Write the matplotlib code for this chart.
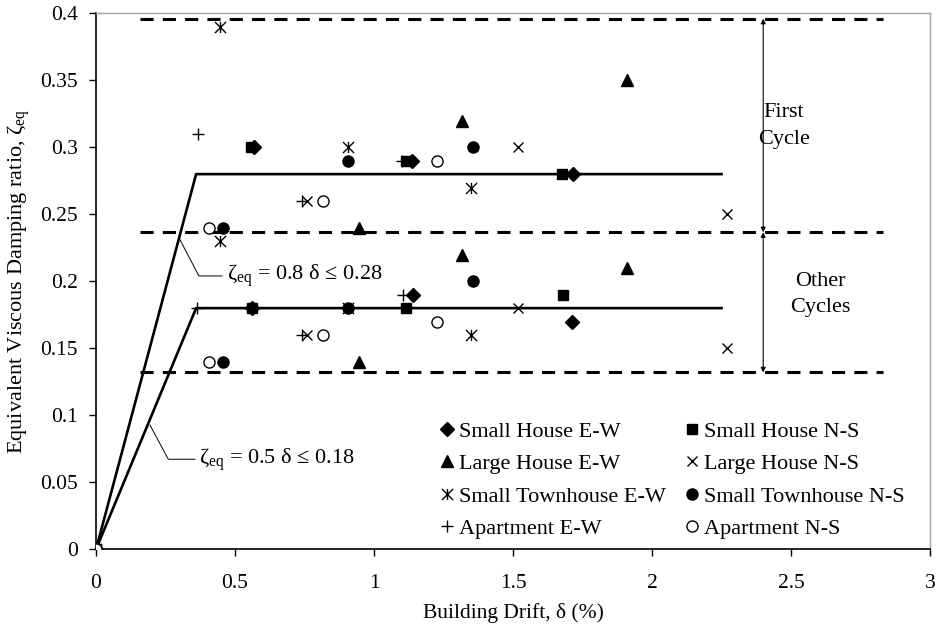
import numpy as np
import matplotlib
matplotlib.use("Agg")
import matplotlib.pyplot as plt
from matplotlib.path import Path

plt.rcParams['font.family'] = ['Liberation Serif', 'DejaVu Serif']
plt.rcParams['mathtext.fontset'] = 'custom'
plt.rcParams['mathtext.rm'] = 'Liberation Serif'
plt.rcParams['mathtext.it'] = 'Liberation Serif:italic'

# data: building drift (%) and damping ratio
sh_ew_x = [0, 0.568, 1.137, 1.716, 0.560, 1.139, 1.711]
sh_ew_y = [0, 0.30, 0.29, 0.28, 0.18, 0.19, 0.17]
sh_ns_x = [0, 0.556, 1.114, 1.675, 0.560, 1.114, 1.679]
sh_ns_y = [0, 0.30, 0.29, 0.28, 0.18, 0.18, 0.19]
lh_ew_x = [0, 0.947, 1.317, 1.909, 0.947, 1.317, 1.909]
lh_ew_y = [0, 0.24, 0.32, 0.35, 0.14, 0.22, 0.21]
lh_ns_x = [0, 0.758, 1.519, 2.269, 0.758, 1.519, 2.269]
lh_ns_y = [0, 0.26, 0.30, 0.25, 0.16, 0.18, 0.15]
sth_ew_x = [0, 0.446, 0.906, 1.349, 0.446, 0.906, 1.349]
sth_ew_y = [0, 0.39, 0.30, 0.27, 0.23, 0.18, 0.16]
sth_ns_x = [0, 0.458, 0.906, 1.357, 0.458, 0.906, 1.357]
sth_ns_y = [0, 0.24, 0.29, 0.30, 0.14, 0.18, 0.20]
apt_ew_x = [0, 0.368, 0.740, 1.100, 0.364, 0.740, 1.106]
apt_ew_y = [0, 0.31, 0.26, 0.29, 0.18, 0.16, 0.19]
apt_ns_x = [0, 0.408, 0.818, 1.228, 0.408, 0.818, 1.228]
apt_ns_y = [0, 0.24, 0.26, 0.29, 0.14, 0.16, 0.17]

# bilinear fits
first_x = [0, 0.36, 2.25]
first_y = [0, 0.28, 0.28]
other_x = [0, 0.36, 2.25]
other_y = [0, 0.18, 0.18]

# bounds of the scatter bands
band_levels = [0.396, 0.2366, 0.132]
band_x = [0.158, 2.83]

# asterisk marker: X with a vertical bar
ast = Path([(0, -1), (0, 1), (-1, -1), (1, 1), (-1, 1), (1, -1)],
           [Path.MOVETO, Path.LINETO, Path.MOVETO, Path.LINETO, Path.MOVETO, Path.LINETO])

fig = plt.figure(figsize=(9.36, 6.25), dpi=100)
ax = fig.add_axes([0.1026, 0.1211, 0.8910, 0.8576])

ax.plot(first_x, first_y, color='black', lw=1.9, zorder=2)
ax.plot(other_x, other_y, color='black', lw=1.9, zorder=2)
for lv in band_levels:
    ax.plot(band_x, [lv, lv], color='black', lw=2.2, ls=(0, (4.3, 3)), zorder=2)

series = [
    (sh_ew_x, sh_ew_y, 'D', 'black', 7.5, 'Small House E-W'),
    (lh_ew_x, lh_ew_y, '^', 'black', 8.5, 'Large House E-W'),
    (sth_ew_x, sth_ew_y, ast, 'none', 8, 'Small Townhouse E-W'),
    (apt_ew_x, apt_ew_y, '+', 'none', 9, 'Apartment E-W'),
    (sh_ns_x, sh_ns_y, 's', 'black', 7.5, 'Small House N-S'),
    (lh_ns_x, lh_ns_y, 'x', 'none', 7.5, 'Large House N-S'),
    (sth_ns_x, sth_ns_y, 'o', 'black', 8, 'Small Townhouse N-S'),
    (apt_ns_x, apt_ns_y, 'o', 'white', 8, 'Apartment N-S'),
]
# draw order as in the original chart (diamonds first, squares on top)
draw_order = [0, 4, 1, 5, 2, 6, 3, 7]
handles = [None] * 8
for i in draw_order:
    x, y, m, fc, ms, lab = series[i]
    h, = ax.plot(x, y, ls='none', marker=m, ms=ms, mfc=fc, mec='black',
                 mew=1.0, label=lab, zorder=3)
    handles[i] = h

ax.legend(handles=handles, ncol=2, frameon=False, fontsize=16,
          loc='lower left', bbox_to_anchor=(0.397, -0.006),
          handlelength=0.6, handletextpad=0.25, columnspacing=0.85,
          labelspacing=0.54, borderaxespad=0.2)

# double arrows for the two bands
arw = dict(arrowstyle='<|-|>', lw=0.8, color='black', shrinkA=0, shrinkB=0,
           mutation_scale=7)
ax.annotate('', xy=(2.40, band_levels[0]), xytext=(2.40, band_levels[1]), arrowprops=arw)
ax.annotate('', xy=(2.40, band_levels[1]), xytext=(2.40, band_levels[2]), arrowprops=arw)
ax.text(2.475, 0.316, 'First\nCycle', ha='center', va='center', fontsize=16, linespacing=1.55)
ax.text(2.604, 0.190, 'Other\nCycles', ha='center', va='center', fontsize=16, linespacing=1.5)

# equation labels with leader lines
ax.plot([0.302, 0.37, 0.453], [0.231, 0.204, 0.204], color='black', lw=0.7)
ax.text(0.47, 0.204, 'ζ$_{\\rm eq}$ = 0.8 δ ≤ 0.28', ha='left', va='center', fontsize=16)
ax.plot([0.194, 0.26, 0.356], [0.0928, 0.0672, 0.0672], color='black', lw=0.7)
ax.text(0.37, 0.0672, 'ζ$_{\\rm eq}$ = 0.5 δ ≤ 0.18', ha='left', va='center', fontsize=16)

ax.set_xlim(0, 3)
ax.set_ylim(0, 0.4)
ax.set_xticks(np.arange(0, 3.01, 0.5))
ax.set_xticklabels(['0', '0.5', '1', '1.5', '2', '2.5', '3'])
ax.set_yticks(np.arange(0, 0.401, 0.05))
ax.set_yticklabels(['0', '0.05', '0.1', '0.15', '0.2', '0.25', '0.3', '0.35', '0.4'])
ax.tick_params(axis='x', direction='out', length=5, width=1, pad=12.5, labelsize=15.5)
ax.tick_params(axis='y', direction='out', length=5, width=1, pad=8, labelsize=15.5)

for s in ['top', 'right']:
    ax.spines[s].set_color('#a0a0a0')
    ax.spines[s].set_linewidth(1.0)
for s in ['left', 'bottom']:
    ax.spines[s].set_color('black')
    ax.spines[s].set_linewidth(1.2)

ax.set_xlabel('Building Drift, δ (%)', fontsize=15.5)
ax.xaxis.set_label_coords(0.5, -0.100)
ax.set_ylabel('Equivalent Viscous Damping ratio, ζ$_{\\rm eq}$', fontsize=16)
ax.yaxis.set_label_coords(-0.077, 0.5)

fig.savefig('out.png', dpi=100)
